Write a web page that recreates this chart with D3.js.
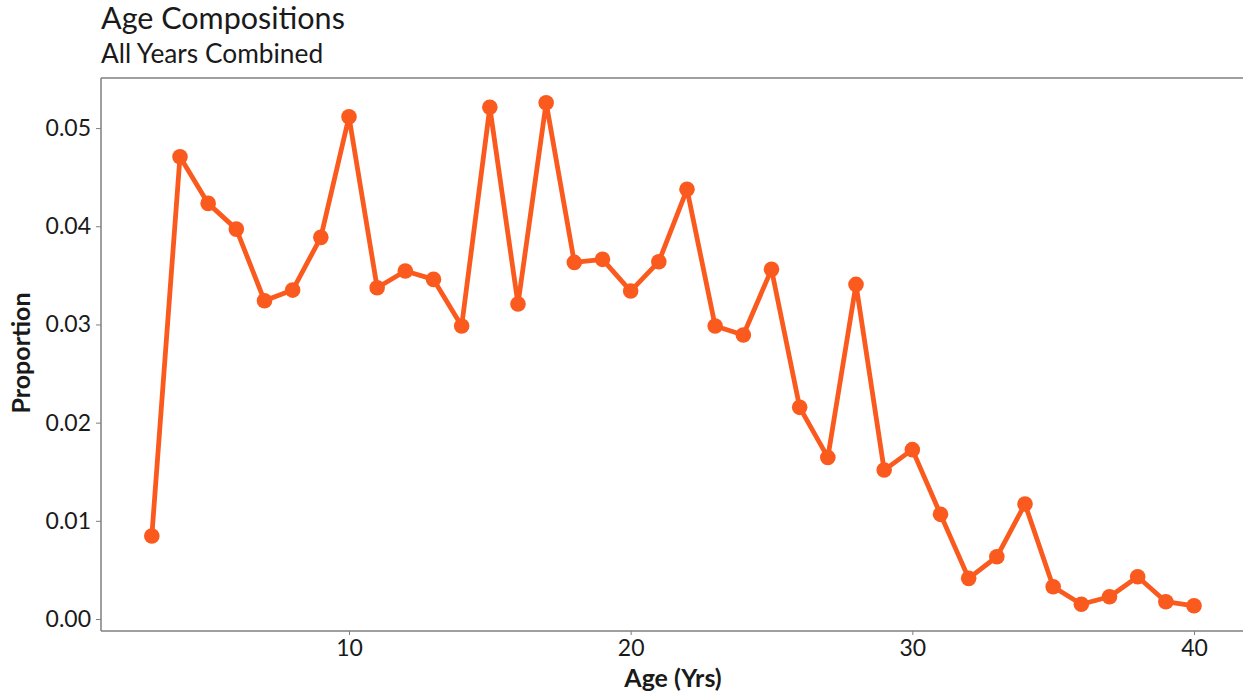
<!DOCTYPE html>
<html>
<head>
<meta charset="utf-8">
<script src="https://cdn.jsdelivr.net/npm/d3@7"></script>
<style>
  html, body { margin: 0; padding: 0; background: #ffffff; }
  svg { display: block; }
</style>
</head>
<body>
<svg id="chart" width="1243" height="696"></svg>
<script>
const titleText = "Age Compositions";
const subtitleText = "All Years Combined";
const xLabel = "Age (Yrs)";
const yLabel = "Proportion";

const ages = [3,4,5,6,7,8,9,10,11,12,13,14,15,16,17,18,19,20,21,22,23,24,25,26,27,28,29,30,31,32,33,34,35,36,37,38,39,40];
const proportions = [0.00845,0.04708,0.04233,0.03971,0.03241,0.03350,0.03887,0.05115,0.03374,0.03544,
  0.03459,0.02984,0.05211,0.03208,0.05258,0.03632,0.03663,0.03340,0.03639,0.04376,
  0.02984,0.02892,0.03561,0.02156,0.01646,0.03408,0.01517,0.01725,0.01066,0.00414,
  0.00634,0.01171,0.00329,0.00150,0.00227,0.00431,0.00176,0.00135];

const xTicks = [10, 20, 30, 40];
const yTicks = [0.00, 0.01, 0.02, 0.03, 0.04, 0.05];

const svg = d3.select("#chart");
const W = 1243, H = 696;
const panel = { left: 101, top: 78, right: 1245, bottom: 631 };

const x = d3.scaleLinear().domain([1.196, 41.81]).range([panel.left, panel.right]);
const y = d3.scaleLinear().domain([-0.00122, 0.0551]).range([panel.bottom, panel.top]);

const font = "Lato, 'Open Sans', sans-serif";
const axisColor = "#7f7f7f";
const lineColor = "#fb5a1e";
const textColor = "#1a1a1a";

// panel frame (top edge)
svg.append("line").attr("x1", panel.left).attr("x2", W).attr("y1", panel.top).attr("y2", panel.top)
  .attr("stroke", axisColor).attr("stroke-width", 1.3);

// axes
const xAxis = d3.axisBottom(x).tickValues(xTicks).tickFormat(d3.format("d")).tickSize(4).tickSizeOuter(0);
const yAxis = d3.axisLeft(y).tickValues(yTicks).tickFormat(d3.format(".2f")).tickSize(5).tickSizeOuter(0);

const gx = svg.append("g").attr("transform", `translate(0,${panel.bottom})`).call(xAxis);
gx.select(".domain").attr("d", `M${panel.left},0H${W}`).attr("stroke", axisColor).attr("stroke-width", 1.5);
gx.selectAll(".tick line").attr("stroke", axisColor);
gx.selectAll(".tick text").attr("font-family", font).attr("font-size", 23).attr("fill", textColor).attr("dy", "0.74em").attr("y", 8);

const gy = svg.append("g").attr("transform", `translate(${panel.left},0)`).call(yAxis);
gy.select(".domain").attr("d", `M0,${panel.top}V${panel.bottom}`).attr("stroke", axisColor).attr("stroke-width", 1.5);
gy.selectAll(".tick line").attr("stroke", axisColor);
gy.selectAll(".tick text").attr("font-family", font).attr("font-size", 23).attr("fill", textColor).attr("x", -10);

// series
const data = ages.map((a, i) => ({ age: a, p: proportions[i] }));
const line = d3.line().x(d => x(d.age)).y(d => y(d.p));
svg.append("path").datum(data).attr("d", line)
  .attr("fill", "none").attr("stroke", lineColor).attr("stroke-width", 4.8).attr("stroke-linejoin", "round");
svg.append("g").selectAll("circle").data(data).join("circle")
  .attr("cx", d => x(d.age)).attr("cy", d => y(d.p)).attr("r", 7.8).attr("fill", lineColor);

// titles
svg.append("text").attr("x", 101).attr("y", 29).text(titleText)
  .attr("font-family", font).attr("font-size", 30.5).attr("fill", textColor);
svg.append("text").attr("x", 101).attr("y", 63).text(subtitleText)
  .attr("font-family", font).attr("font-size", 26.3).attr("fill", textColor);

// axis labels
svg.append("text").attr("x", 673).attr("y", 687).attr("text-anchor", "middle").text(xLabel)
  .attr("font-family", font).attr("font-weight", "bold").attr("font-size", 25).attr("fill", textColor);
svg.append("text").attr("transform", `translate(30,353) rotate(-90)`).attr("text-anchor", "middle").text(yLabel)
  .attr("font-family", font).attr("font-weight", "bold").attr("font-size", 25).attr("fill", textColor);
</script>
</body>
</html>
